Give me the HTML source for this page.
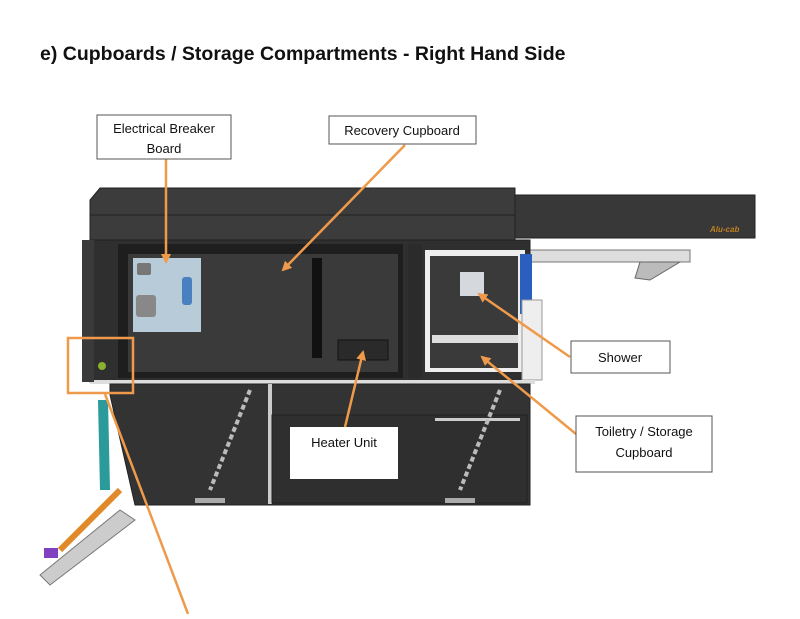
<!DOCTYPE html>
<html><head><style>
body{margin:0;background:#fff;width:800px;height:614px;overflow:hidden;font-family:"Liberation Sans",sans-serif}
</style></head><body>
<svg width="800" height="614" viewBox="0 0 800 614" xmlns="http://www.w3.org/2000/svg" font-family="Liberation Sans, sans-serif">
<defs><marker id="a" viewBox="0 0 10 10" refX="8" refY="5" markerWidth="4" markerHeight="4" orient="auto"><path d="M0 0 L10 5 L0 10 Z" fill="#ef9a4a"/></marker></defs>
<text x="40" y="60" font-size="19.5" font-weight="bold" fill="#111">e)  Cupboards / Storage Compartments - Right Hand Side</text>
<path d="M513 195 H755 V238 H513 Z" fill="#383838" stroke="#222"/>
<text x="710" y="232" font-size="8" fill="#c08020" font-style="italic" font-weight="bold">Alu-cab</text>
<path d="M530 250 H690 V262 H530 Z" fill="#ddd" stroke="#777"/>
<path d="M640 262 L680 262 L650 280 L635 278 Z" fill="#bbb" stroke="#666"/>
<path d="M100 188 H515 V240 H90 V200 Z" fill="#3c3c3c" stroke="#222"/>
<line x1="90" y1="215" x2="515" y2="215" stroke="#222"/>
<rect x="90" y="240" width="440" height="142" fill="#2f2f2f" stroke="#222"/>
<rect x="118" y="244" width="285" height="134" fill="#1e1e1e"/>
<rect x="128" y="254" width="270" height="118" fill="#3a3a3a"/>
<rect x="133" y="258" width="68" height="74" fill="#b8cbd8"/>
<rect x="137" y="263" width="14" height="12" fill="#777" rx="2"/>
<rect x="136" y="295" width="20" height="22" fill="#888" rx="3"/>
<rect x="182" y="277" width="10" height="28" fill="#4a7fc0" rx="3"/>
<rect x="312" y="258" width="10" height="100" fill="#111"/>
<rect x="338" y="340" width="50" height="20" fill="#2a2a2a" stroke="#111"/>
<rect x="408" y="244" width="14" height="134" fill="#2b2b2b"/>
<rect x="425" y="250" width="100" height="122" fill="#eee"/>
<rect x="430" y="256" width="88" height="112" fill="#3a3a3a"/>
<rect x="432" y="335" width="86" height="8" fill="#ddd"/>
<rect x="460" y="272" width="24" height="24" fill="#d5d8dc"/>
<rect x="520" y="254" width="12" height="60" fill="#2a5fc0"/>
<rect x="522" y="300" width="20" height="80" fill="#eee" stroke="#999"/>
<rect x="90" y="380" width="445" height="4" fill="#ddd"/>
<path d="M110 384 H530 V505 H135 L110 395 Z" fill="#333" stroke="#222"/>
<rect x="268" y="384" width="4" height="120" fill="#ccc"/>
<rect x="272" y="415" width="255" height="88" fill="#2f2f2f" stroke="#222"/>
<rect x="435" y="418" width="85" height="3" fill="#ccc"/>
<line x1="250" y1="390" x2="210" y2="490" stroke="#bbb" stroke-width="4" stroke-dasharray="5 3"/>
<line x1="500" y1="390" x2="460" y2="490" stroke="#bbb" stroke-width="4" stroke-dasharray="5 3"/>
<rect x="195" y="498" width="30" height="5" fill="#aaa"/>
<rect x="445" y="498" width="30" height="5" fill="#aaa"/>
<rect x="82" y="240" width="12" height="142" fill="#3a3a3a"/>
<circle cx="102" cy="366" r="4" fill="#8ab030"/>
<path d="M98 400 L108 400 L110 490 L100 490 Z" fill="#2a9a9a"/>
<path d="M40 575 L120 510 L135 520 L50 585 Z" fill="#ccc" stroke="#777"/>
<path d="M60 550 L120 490" stroke="#e08a2a" stroke-width="6"/>
<rect x="44" y="548" width="14" height="10" fill="#8040c0"/>
<g stroke="#ef9a4a" stroke-width="2.5" fill="none">
<line x1="166" y1="159" x2="166" y2="262" marker-end="url(#a)"/>
<line x1="405" y1="145" x2="283" y2="270" marker-end="url(#a)"/>
<line x1="345" y1="427" x2="363" y2="352" marker-end="url(#a)"/>
<line x1="570" y1="357" x2="479" y2="294" marker-end="url(#a)"/>
<line x1="576" y1="434" x2="482" y2="357" marker-end="url(#a)"/>
<rect x="68" y="338" width="65" height="55"/>
<line x1="105" y1="394" x2="188" y2="614"/>
</g>
<g fill="#fff" stroke="#555" stroke-width="1">
<rect x="97" y="115" width="134" height="44"/>
<rect x="329" y="116" width="147" height="28"/>
<rect x="571" y="341" width="99" height="32"/>
<rect x="576" y="416" width="136" height="56"/>
</g>
<rect x="290" y="427" width="108" height="52" fill="#fff"/>
<g font-size="13" fill="#111" text-anchor="middle">
<text x="164" y="133">Electrical Breaker</text><text x="164" y="153">Board</text>
<text x="402" y="135">Recovery Cupboard</text>
<text x="620" y="362">Shower</text>
<text x="644" y="436">Toiletry / Storage</text><text x="644" y="457">Cupboard</text>
<text x="344" y="447">Heater Unit</text>
</g>
</svg>
</body></html>
